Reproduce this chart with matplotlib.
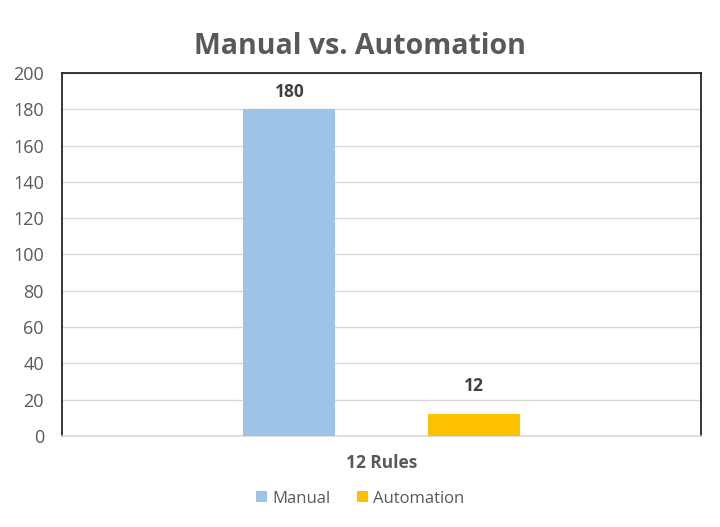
import matplotlib
matplotlib.use("Agg")
import matplotlib.pyplot as plt
from matplotlib.patches import Patch

categories = ["12 Rules"]
series_names = ["Manual", "Automation"]
manual_vals = [180]
automation_vals = [12]
y_ticks = [0, 20, 40, 60, 80, 100, 120, 140, 160, 180, 200]

colors = ["#9DC3E6", "#FFC000"]
text_color = "#595959"

plt.rcParams["font.family"] = ["Open Sans", "DejaVu Sans"]

fig = plt.figure(figsize=(7.2, 5.27), dpi=100)
ax = fig.add_axes([0.0861, 0.1727, 0.8875, 0.6888])

width = 0.144
offsets = [-0.144, 0.144]
label_gap = [9, 17]  # points between bar top and label baseline
for vals, off, col, gap in zip([manual_vals, automation_vals], offsets, colors, label_gap):
    xs = [i + off for i in range(len(categories))]
    bars = ax.bar(xs, vals, width=width, color=col, zorder=3)
    for b, v in zip(bars, vals):
        ax.annotate(str(v), (b.get_x() + b.get_width() / 2, v), xytext=(0, gap),
                    textcoords="offset points", ha="center", va="baseline",
                    fontsize=12.5, fontweight="bold", color="#404040")

ax.set_xlim(-0.5, len(categories) - 0.5)
ax.set_ylim(0, 200)
ax.set_yticks(y_ticks)
ax.set_xticks(range(len(categories)))
ax.set_xticklabels(categories, fontsize=12.5, fontweight="bold", color=text_color)
ax.tick_params(axis="y", length=0, labelsize=13, labelcolor=text_color, pad=13)
ax.tick_params(axis="x", length=0, pad=13)
ax.grid(axis="y", color="#D9D9D9", linewidth=1, zorder=0)

for side in ["left", "top", "right"]:
    ax.spines[side].set_color("#262626")
    ax.spines[side].set_linewidth(1.3)
ax.spines["bottom"].set_color("#D9D9D9")
ax.spines["bottom"].set_linewidth(1.2)

fig.suptitle("Manual vs. Automation", fontsize=20.5, fontweight="bold", color=text_color, y=0.94)

handles = [Patch(facecolor=c, edgecolor="none") for c in colors]
fig.legend(handles, series_names, loc="center", bbox_to_anchor=(0.5, 0.054), ncol=2,
           frameon=False, fontsize=12, handlelength=0.65, handleheight=0.65,
           handletextpad=0.3, columnspacing=1.6, labelcolor=text_color)

fig.savefig("out.png", dpi=100)
